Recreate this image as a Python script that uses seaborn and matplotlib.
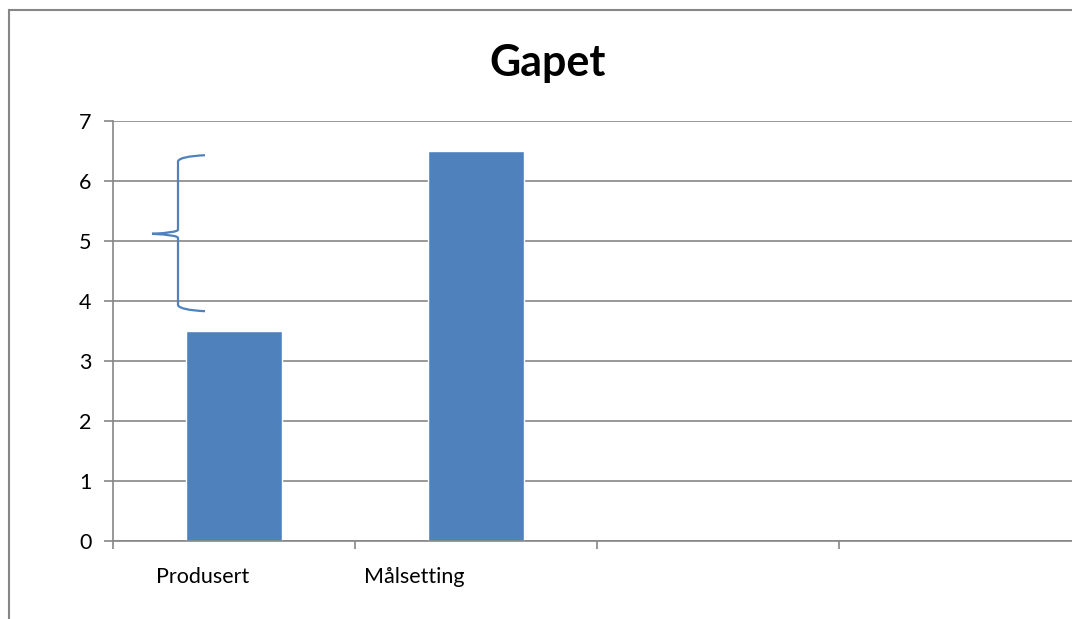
import pandas as pd
import seaborn as sns
import matplotlib.pyplot as plt
from matplotlib.path import Path
from matplotlib.patches import PathPatch, Rectangle
from matplotlib.transforms import ScaledTranslation

# data
slots = ["Produsert", "Målsetting", "tom1", "tom2"]
tick_labels = ["Produsert", "Målsetting", "", ""]
categories = ["Produsert", "Målsetting"]
values = [3.5, 6.5]
# brace annotation (y values)
brace_top = 6.43
brace_mid = 5.12
brace_bottom = 3.83

sns.set_style("white")
plt.rcParams["font.family"] = ["Lato", "DejaVu Sans"]
plt.rcParams["text.color"] = "black"
plt.rcParams["xtick.labelcolor"] = "black"
plt.rcParams["ytick.labelcolor"] = "black"

fig = plt.figure(figsize=(10.72, 6.19), dpi=100)
W, H = 1072, 619
ax = fig.add_axes([113 / W, (H - 541) / H, (1081 - 113) / W, (541 - 121) / H])

df = pd.DataFrame({"kategori": categories, "verdi": values})
sns.barplot(data=df, x="kategori", y="verdi", order=slots, color="#4F81BD",
            saturation=1, width=0.4, ax=ax)

grey = "#868686"
ax.set_xlim(-0.5, 3.5)
ax.set_ylim(0, 7)
ax.set_yticks(range(0, 8))
ax.yaxis.grid(True, color=grey, linewidth=1.2)
ax.set_axisbelow(True)
for s in ["top", "right"]:
    ax.spines[s].set_visible(False)
for s in ["left", "bottom"]:
    ax.spines[s].set_color(grey)
    ax.spines[s].set_linewidth(1.2)
ax.set_xlabel("")
ax.set_ylabel("")

ax.set_xticks(range(4))
ax.set_xticklabels(tick_labels, fontsize=15.5)
ax.tick_params(axis="x", which="major", length=0, pad=19, bottom=True, labelcolor="black")
ax.set_xticks([-0.5, 0.5, 1.5, 2.5, 3.5], minor=True)
ax.tick_params(axis="x", which="minor", length=6, color=grey, width=1.2, bottom=True)
ax.tick_params(axis="y", length=6.5, color=grey, width=1.2, labelsize=15.5, pad=9,
               left=True, labelcolor="black")
# label offsets as in the original
for lab, dx in zip(ax.get_xticklabels(), [-31, -62, 0, 0]):
    lab.set_transform(lab.get_transform() + ScaledTranslation(dx / 100, 0, fig.dpi_scale_trans))

# curly brace
def px(x):
    return -0.5 + (x - 113) / 242

xv = px(178)
verts = [
    (px(205), brace_top), (px(180), brace_top - 0.02), (xv, brace_top - 0.1),
    (xv, brace_mid + 0.07),
    (xv, brace_mid + 0.02), (px(152), brace_mid),
    (xv, brace_mid - 0.02), (xv, brace_mid - 0.07),
    (xv, brace_bottom + 0.1),
    (px(180), brace_bottom + 0.02), (px(205), brace_bottom),
]
codes = [Path.MOVETO, Path.CURVE3, Path.CURVE3, Path.LINETO,
         Path.CURVE3, Path.CURVE3, Path.CURVE3, Path.CURVE3,
         Path.LINETO, Path.CURVE3, Path.CURVE3]
ax.add_patch(PathPatch(Path(verts, codes), fill=False, edgecolor="#4F81BD",
                       linewidth=1.6, clip_on=False))

fig.text(548 / W, 1 - 63 / H, "Gapet", fontsize=31, fontweight="bold",
         ha="center", va="center", color="black")

# outer chart border
fig.patches.append(Rectangle((8.5 / W, -0.1), 1.2, 1 - 9.5 / H + 0.1,
                             transform=fig.transFigure, fill=False,
                             edgecolor=grey, linewidth=1.5))

fig.savefig("out.png", dpi=100)
